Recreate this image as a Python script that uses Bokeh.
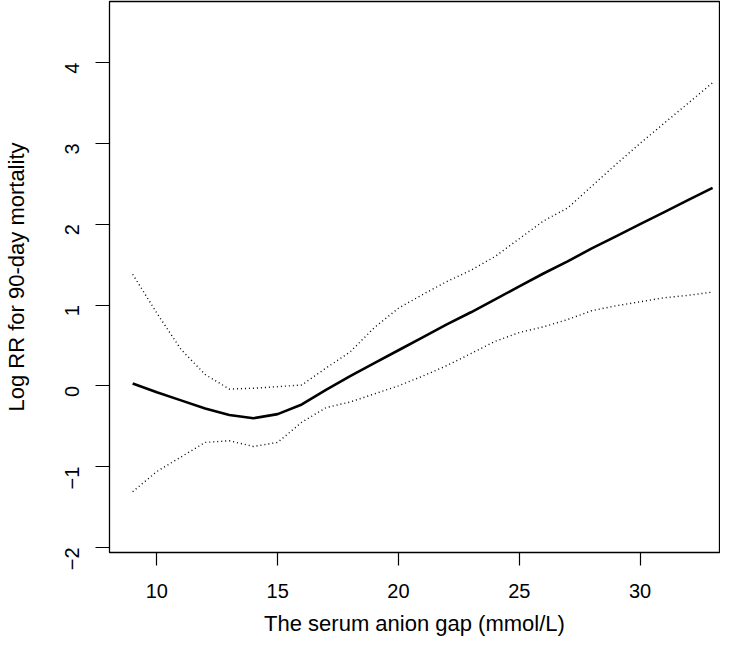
import math
from bokeh.plotting import figure
from bokeh.models import Range1d, FixedTicker
from bokeh.embed import file_html
from bokeh.resources import INLINE

# Serum anion gap (mmol/L)
anion_gap = [9, 10, 11, 12, 13, 14, 15, 16, 17, 18, 19, 20, 21, 22, 23, 24, 25,
             26, 27, 28, 29, 30, 31, 32, 33]
# Log RR estimate
log_rr = [0.03, -0.08, -0.18, -0.28, -0.36, -0.40, -0.35, -0.23, -0.05, 0.12,
          0.28, 0.44, 0.60, 0.76, 0.91, 1.07, 1.23, 1.39, 1.54, 1.70, 1.85,
          2.00, 2.15, 2.30, 2.45]
# Upper 95% CI
upper_ci = [1.38, 0.90, 0.45, 0.14, -0.04, -0.03, -0.01, 0.01, 0.22, 0.42,
            0.72, 0.96, 1.13, 1.29, 1.43, 1.60, 1.82, 2.04, 2.20, 2.47, 2.74,
            3.00, 3.25, 3.50, 3.75]
# Lower 95% CI
lower_ci = [-1.31, -1.06, -0.88, -0.70, -0.68, -0.75, -0.70, -0.45, -0.27,
            -0.20, -0.10, 0.00, 0.12, 0.25, 0.40, 0.55, 0.66, 0.73, 0.82, 0.93,
            0.99, 1.04, 1.09, 1.12, 1.16]

x_ticks = [10, 15, 20, 25, 30]
y_ticks = [-2, -1, 0, 1, 2, 3, 4]

FONT = "Liberation Sans"

p = figure(width=720, height=642, output_backend="svg", toolbar_location=None,
           x_range=Range1d(8.041, 33.285), y_range=Range1d(-2.062, 4.755),
           min_border_left=104, min_border_right=1, min_border_top=1,
           min_border_bottom=90)

p.background_fill_color = "white"
p.border_fill_color = "white"
p.outline_line_color = "black"
p.outline_line_width = 1.3
p.xgrid.grid_line_color = None
p.ygrid.grid_line_color = None

p.line(anion_gap, log_rr, line_color="black", line_width=2.6)
p.line(anion_gap, upper_ci, line_color="black", line_width=1.4, line_dash="1 3")
p.line(anion_gap, lower_ci, line_color="black", line_width=1.4, line_dash="1 3")

for ax in (p.xaxis[0], p.yaxis[0]):
    ax.axis_line_color = None
    ax.major_tick_in = 0
    ax.major_tick_out = 13
    ax.major_tick_line_color = "black"
    ax.major_tick_line_width = 1.2
    ax.minor_tick_line_color = None
    ax.major_label_text_font = FONT
    ax.major_label_text_font_size = "20px"
    ax.major_label_text_color = "black"
    ax.axis_label_text_font = FONT
    ax.axis_label_text_font_size = "22px"
    ax.axis_label_text_font_style = "normal"
    ax.axis_label_text_color = "black"

p.xaxis[0].ticker = FixedTicker(ticks=x_ticks)
p.yaxis[0].ticker = FixedTicker(ticks=y_ticks)
p.xaxis[0].axis_label = "The serum anion gap (mmol/L)"
p.yaxis[0].axis_label = "Log RR for 90-day mortality"
p.xaxis[0].major_label_standoff = 18
p.xaxis[0].axis_label_standoff = 10
p.yaxis[0].major_tick_out = 14
p.yaxis[0].major_label_orientation = math.pi / 2
p.yaxis[0].major_label_standoff = 23
p.yaxis[0].axis_label_standoff = 27

open("out.html", "w").write(file_html(p, INLINE))
